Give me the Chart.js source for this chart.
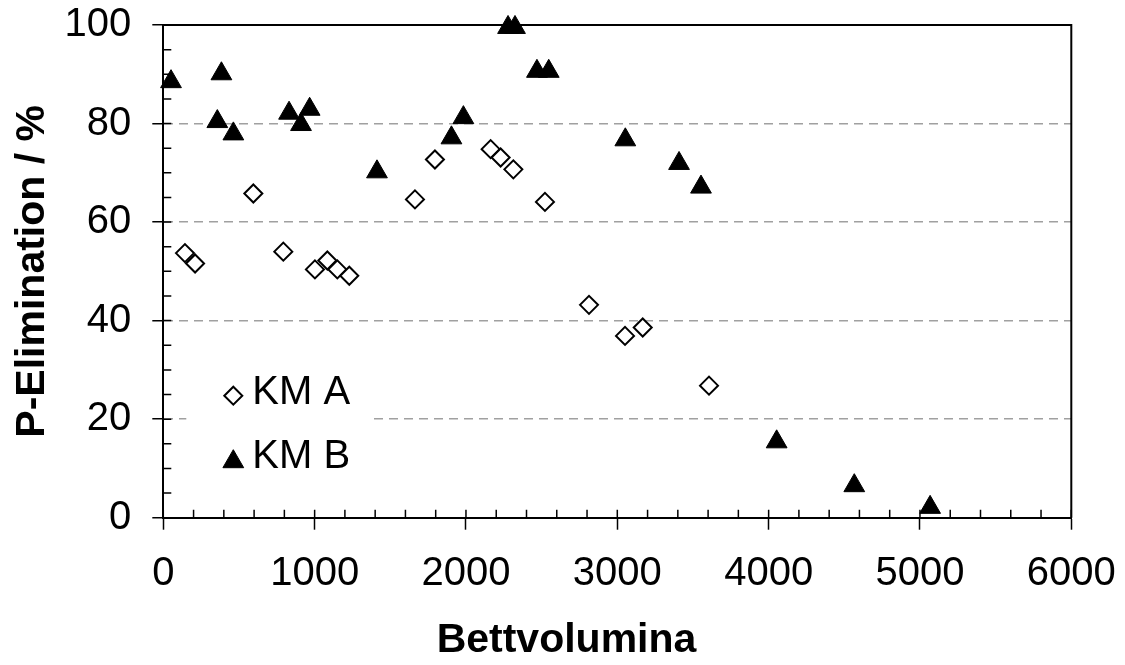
<!DOCTYPE html>
<html>
<head>
<meta charset="utf-8">
<title>P-Elimination</title>
<script src="https://cdn.jsdelivr.net/npm/chart.js@4.4.1/dist/chart.umd.min.js"></script>
<style>
  html, body { margin: 0; padding: 0; background: #fff; overflow: hidden; }
  #wrap { width: 1125px; height: 665px; }
</style>
</head>
<body>
<div id="wrap"><canvas id="myChart"></canvas></div>
<script>
var fontFamily = "'Liberation Sans', Arial, Helvetica, sans-serif";

// KM A (open diamonds)
var kmA_bv = [143, 210, 595, 793, 1002, 1084, 1150, 1229, 1663, 1795, 2163, 2229, 2313, 2522, 2813, 3051, 3168, 3606];
var kmA_p  = [53.7, 51.6, 65.8, 54.0, 50.4, 52.2, 50.4, 49.1, 64.6, 72.7, 74.8, 73.1, 70.7, 64.1, 43.2, 36.9, 38.6, 26.8];

// KM B (filled triangles)
var kmB_bv = [51, 357, 384, 463, 831, 910, 967, 1412, 1904, 1983, 2278, 2324, 2469, 2547, 3053, 3408, 3553, 4053, 4566, 5067];
var kmB_p  = [88.5, 80.4, 90.1, 77.9, 82.1, 79.8, 82.9, 70.2, 77.1, 81.2, 99.5, 99.5, 90.6, 90.6, 76.7, 71.9, 67.1, 15.4, 6.5, 2.1];

var seriesNames = ['KM A', 'KM B'];
var xTitle = 'Bettvolumina';
var yTitle = 'P-Elimination / %';

// axis ranges
var xMin = 0, xMax = 6000, xStep = 1000, xMinor = 200;
var yMin = 0, yMax = 100, yStep = 20, yMinor = 5;

function toPoints(xs, ys) {
    return xs.map(function(x, i) { return {x: x, y: ys[i]}; });
}

// inner minor ticks + top/right frame
var framePlugin = {
    id: 'frame',
    beforeDatasetsDraw: function(chart) {
        var ctx = chart.ctx, a = chart.chartArea;
        var xs = chart.scales.x, ys = chart.scales.y;
        ctx.save();
        ctx.strokeStyle = '#000';
        ctx.lineWidth = 1.5;
        ctx.beginPath();
        for (var v = xMin; v <= xMax; v += xMinor) {
            var px = xs.getPixelForValue(v);
            ctx.moveTo(px, a.bottom);
            ctx.lineTo(px, a.bottom - 8);
        }
        for (var w = yMin; w <= yMax; w += yMinor) {
            var py = ys.getPixelForValue(w);
            ctx.moveTo(a.left, py);
            ctx.lineTo(a.left + 8, py);
        }
        ctx.stroke();
        ctx.lineWidth = 2;
        ctx.beginPath();
        ctx.moveTo(a.left, a.top);
        ctx.lineTo(a.right, a.top);
        ctx.lineTo(a.right, a.bottom);
        ctx.stroke();
        ctx.restore();
    }
};

// legend box inside the plot, lower left
var legendPlugin = {
    id: 'boxLegend',
    afterDatasetsDraw: function(chart) {
        var ctx = chart.ctx, a = chart.chartArea;
        var rows = [-122, -56];
        var textRows = [-124.7, -60.7];
        ctx.save();
        ctx.fillStyle = '#fff';
        ctx.fillRect(a.left + 23, a.bottom - 153, 184, 125);
        chart.data.datasets.forEach(function(ds, i) {
            ctx.fillStyle = ds.backgroundColor;
            ctx.strokeStyle = ds.borderColor;
            ctx.lineWidth = ds.borderWidth;
            Chart.helpers.drawPoint(ctx, {
                pointStyle: ds.pointStyle,
                radius: ds.pointRadius,
                rotation: 0,
                borderWidth: ds.borderWidth
            }, a.left + 70, a.bottom + rows[i]);
            ctx.fillStyle = '#000';
            ctx.font = '40px ' + fontFamily;
            ctx.textAlign = 'left';
            ctx.textBaseline = 'middle';
            ctx.fillText(ds.label, a.left + 89, a.bottom + textRows[i]);
        });
        ctx.restore();
    }
};

var ctx = document.getElementById("myChart").getContext("2d");

var data = {
    datasets: [
        {
            label: seriesNames[0],
            data: toPoints(kmA_bv, kmA_p),
            pointStyle: 'rectRot',
            pointRadius: 9,
            backgroundColor: '#ffffff',
            borderColor: '#000000',
            borderWidth: 2,
            clip: false
        },
        {
            label: seriesNames[1],
            data: toPoints(kmB_bv, kmB_p),
            pointStyle: 'triangle',
            pointRadius: 12,
            backgroundColor: '#000000',
            borderColor: '#000000',
            borderWidth: 1,
            clip: false
        }
    ]
};

var config = {
    type: 'scatter',
    data: data,
    plugins: [framePlugin, legendPlugin],
    options: {
        responsive: true,
        maintainAspectRatio: false,
        devicePixelRatio: 1,
        animation: false,
        events: [],
        layout: {
            autoPadding: false,
            padding: {left: 8, top: 25, right: 0, bottom: 0}
        },
        plugins: {
            legend: { display: false },
            tooltip: { enabled: false },
            title: {
                display: true,
                position: 'bottom',
                text: xTitle,
                color: '#000',
                padding: 0,
                font: { family: fontFamily, size: 41, weight: 'bold', lineHeight: 1.2 }
            }
        },
        scales: {
            x: {
                type: 'linear',
                position: 'bottom',
                min: xMin,
                max: xMax,
                afterFit: function(s) {
                    s.height = 98.1;
                    s.paddingLeft = 0;
                    s.paddingRight = 0;
                },
                ticks: {
                    stepSize: xStep,
                    maxRotation: 0,
                    autoSkip: false,
                    padding: 20,
                    color: '#000',
                    font: { family: fontFamily, size: 40 },
                    callback: function(v) { return String(v); }
                },
                grid: {
                    drawOnChartArea: false,
                    drawTicks: true,
                    tickLength: 12,
                    tickColor: '#000',
                    tickWidth: 1.5
                },
                border: { display: true, color: '#000', width: 2 }
            },
            y: {
                type: 'linear',
                position: 'left',
                min: yMin,
                max: yMax,
                afterFit: function(s) {
                    s.width = 155.3;
                    s.paddingTop = 0;
                    s.paddingBottom = 0;
                },
                ticks: {
                    stepSize: yStep,
                    padding: 21,
                    color: '#000',
                    font: { family: fontFamily, size: 40 }
                },
                grid: {
                    color: function(c) {
                        var v = c.tick ? c.tick.value : 0;
                        return (v === yMin || v === yMax) ? 'rgba(0,0,0,0)' : '#a0a0a0';
                    },
                    lineWidth: 1.5,
                    drawTicks: true,
                    tickLength: 11,
                    tickColor: '#000',
                    tickWidth: 1.5
                },
                border: { display: true, color: '#000', width: 2, dash: [9, 6] },
                title: {
                    display: true,
                    text: yTitle,
                    color: '#000',
                    padding: 0,
                    font: { family: fontFamily, size: 41, weight: 'bold', lineHeight: 1.2 }
                }
            },
            y2: {
                type: 'linear',
                position: 'right',
                min: yMin,
                max: yMax,
                afterFit: function(s) {
                    s.width = 53.7;
                    s.paddingTop = 0;
                    s.paddingBottom = 0;
                },
                ticks: { display: false },
                grid: { display: false },
                border: { display: false }
            }
        }
    }
};

var myChart = new Chart(ctx, config);
</script>
</body>
</html>
